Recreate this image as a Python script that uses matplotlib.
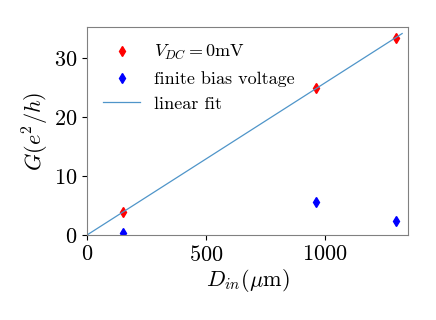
import numpy as np
import matplotlib
matplotlib.use("Agg")
from matplotlib import pyplot as plt

plt.rcParams["font.family"] = "serif"
plt.rcParams["font.serif"] = ["cmr10"]
plt.rcParams["mathtext.fontset"] = "cm"
plt.rcParams["axes.formatter.use_mathtext"] = True

# lengths and measured conductance
d_in = [150, 961, 1301]
g_zero = [3.8, 25.0, 33.4]
g_bias = [0.3, 5.5, 2.4]

# linear fit through the origin of the zero-bias points
x = np.array(d_in)
y = np.array(g_zero)
slope = np.sum(x * y) / np.sum(x * x)
fit_x = np.array([0, 1325])

fig = plt.figure(figsize=(4.36, 3.2), dpi=100)
ax = fig.add_axes([0.2, 0.266, 0.736, 0.65])

ax.plot(d_in, g_zero, "d", color="red", markersize=5, label="$V_{DC}=0$mV")
ax.plot(d_in, g_bias, "d", color="blue", markersize=5, label="finite bias voltage")
ax.plot(fit_x, slope * fit_x, color="#4f95c9", linewidth=0.9, label="linear fit")

ax.set_xlim(0, 1350)
ax.set_ylim(0, 35.3)
ax.set_xticks([0, 500, 1000])
ax.set_yticks([0, 10, 20, 30])
ax.tick_params(labelsize=16)
for s in ax.spines.values():
    s.set_color("#808080")

ax.set_xlabel(r"$D_{in}(\mu$m$)$", fontsize=16, labelpad=2)
ax.set_ylabel(r"$G(e^2/h)$", fontsize=16, labelpad=2)
ax.legend(loc="upper left", frameon=False, fontsize=13, handlelength=2)

fig.savefig("out.png", dpi=100)
